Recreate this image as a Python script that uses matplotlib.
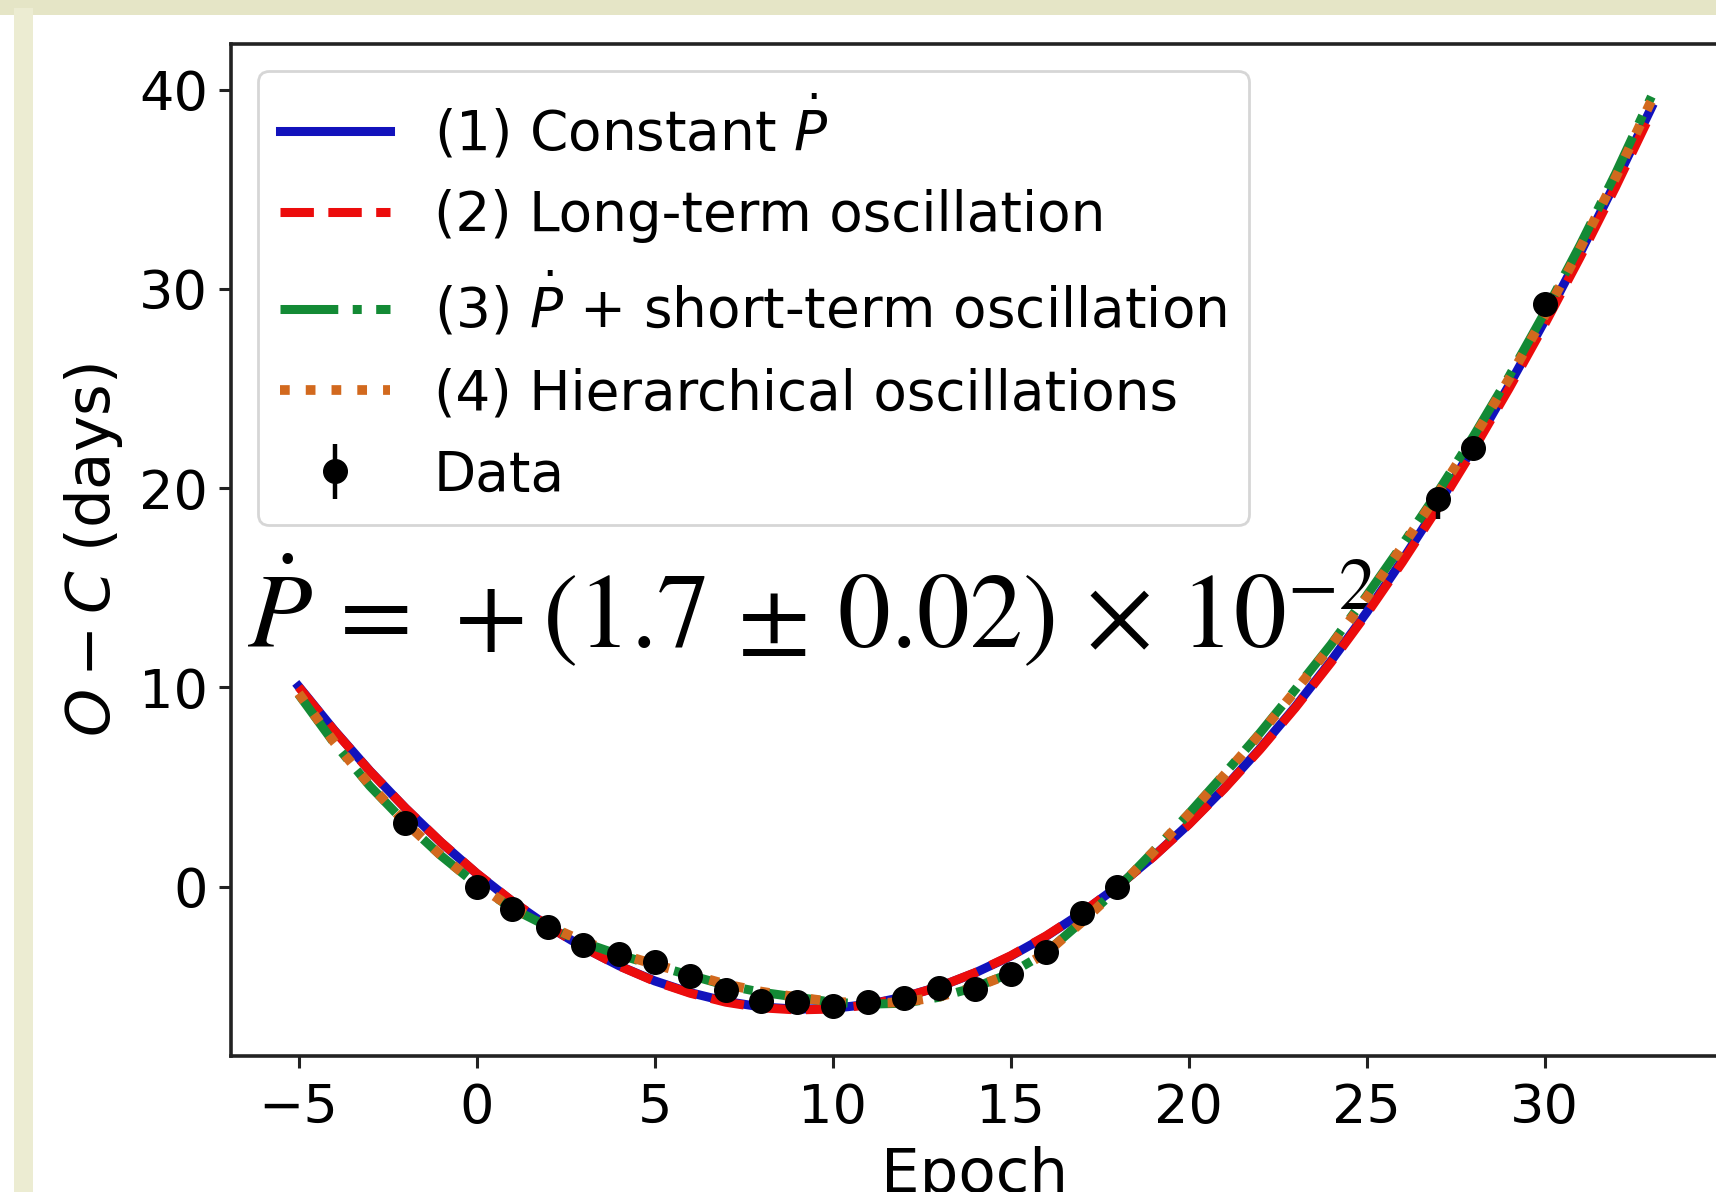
import matplotlib
matplotlib.use("Agg")
import matplotlib.pyplot as plt
from matplotlib.patches import Rectangle

# Model curves sampled at each epoch (O - C in days)
epoch_model = [-5, -4, -3, -2, -1, 0, 1, 2, 3, 4, 5, 6, 7, 8, 9, 10, 11, 12, 13,
               14, 15, 16, 17, 18, 19, 20, 21, 22, 23, 24, 25, 26, 27, 28, 29,
               30, 31, 32, 33]
oc_const_pdot = [10.05, 7.85, 5.81, 3.94, 2.22, 0.66, -0.74, -1.98, -3.05, -3.97,
                 -4.73, -5.32, -5.76, -6.04, -6.15, -6.11, -5.91, -5.54, -5.02,
                 -4.33, -3.49, -2.49, -1.32, 0.00, 1.49, 3.13, 4.94, 6.91, 9.03,
                 11.32, 13.76, 16.37, 19.13, 22.06, 25.15, 28.39, 31.80, 35.37,
                 39.09]
oc_long_osc = [10.02, 7.83, 5.80, 3.94, 2.23, 0.67, -0.73, -1.97, -3.05, -3.98,
               -4.75, -5.35, -5.80, -6.08, -6.19, -6.14, -5.93, -5.55, -5.02,
               -4.32, -3.47, -2.47, -1.31, 0.00, 1.48, 3.11, 4.91, 6.87, 8.98,
               11.25, 13.68, 16.27, 19.01, 21.92, 24.99, 28.21, 31.59, 35.13,
               38.85]
oc_pdot_short = [9.65, 7.20, 5.05, 3.20, 1.55, 0.10, -1.10, -2.00, -2.80, -3.42,
                 -3.95, -4.45, -4.95, -5.30, -5.55, -5.80, -5.90, -5.85, -5.55,
                 -5.05, -4.35, -3.30, -1.75, -0.10, 1.75, 3.65, 5.65, 7.70, 9.90,
                 12.15, 14.60, 17.15, 19.80, 22.60, 25.60, 28.80, 32.20, 35.80,
                 39.65]
oc_hierarchical = [9.70, 7.25, 5.10, 3.22, 1.57, 0.12, -1.07, -1.96, -2.75, -3.37,
                   -3.90, -4.40, -4.90, -5.27, -5.55, -5.78, -5.85, -5.80, -5.52,
                   -5.05, -4.37, -3.33, -1.78, -0.12, 1.73, 3.62, 5.60, 7.65, 9.83,
                   12.08, 14.50, 17.05, 19.70, 22.50, 25.48, 28.66, 32.04, 35.60,
                   39.45]

# Observed timings
epoch_obs = [-2, 0, 1, 2, 3, 4, 5, 6, 7, 8, 9, 10, 11, 12, 13, 14, 15, 16, 17,
             18, 27, 28, 30]
oc_obs = [3.19, 0.00, -1.14, -2.02, -2.94, -3.36, -3.78, -4.50, -5.20, -5.74,
          -5.79, -6.00, -5.79, -5.61, -5.10, -5.16, -4.40, -3.28, -1.32, 0.00,
          19.45, 22.00, 29.25]
oc_err_lo = [0.3, 0.3, 0.3, 0.3, 0.3, 0.3, 0.3, 0.3, 0.3, 0.3, 0.3, 0.3, 0.3,
             0.3, 0.3, 0.3, 0.3, 0.3, 0.3, 0.3, 1.0, 0.4, 0.4]
oc_err_hi = [0.3, 0.3, 0.3, 0.3, 0.3, 0.3, 0.3, 0.3, 0.3, 0.3, 0.3, 0.3, 0.3,
             0.3, 0.3, 0.3, 0.3, 0.3, 0.3, 0.3, 0.4, 0.4, 0.4]

labels = [r"(1) Constant $\dot{P}$",
          r"(2) Long-term oscillation",
          r"(3) $\dot{P}$ + short-term oscillation",
          r"(4) Hierarchical oscillations",
          "Data"]

W, H = 1716, 1192
fig = plt.figure(figsize=(W / 100, H / 100), dpi=100, facecolor="white")

# slide frame
fig.patches.append(Rectangle((0, 1 - 15 / H), 1, 15 / H, transform=fig.transFigure,
                             facecolor="#e5e5c6", edgecolor="none", zorder=0))
fig.patches.append(Rectangle((14 / W, 0), 19 / W, 1 - 8 / H, transform=fig.transFigure,
                             facecolor="#ececd2", edgecolor="none", zorder=0))

left, right, top, bottom = 231, 1719, 43.8, 1056
ax = fig.add_axes([left / W, (H - bottom) / H, (right - left) / W, (bottom - top) / H])
ax.set_facecolor("white")

lw = 6.5
ax.plot(epoch_model, oc_const_pdot, color="#1212bc", lw=lw, ls="-", label=labels[0])
ax.plot(epoch_model, oc_long_osc, color="#ec0c0c", lw=lw, ls="--", label=labels[1])
ax.plot(epoch_model, oc_pdot_short, color="#138a35", lw=lw, ls="-.", label=labels[2])
ax.plot(epoch_model, oc_hierarchical, color="#d2691e", lw=7.0, ls=":", label=labels[3])
ax.errorbar(epoch_obs, oc_obs, yerr=[oc_err_lo, oc_err_hi], fmt="o", color="black",
            ms=17, elinewidth=3.2, capsize=0, zorder=4, label=labels[4])

ax.set_xlim(-6.9, 34.9)
ax.set_ylim(-8.5, 42.3)
ax.set_xticks([-5, 0, 5, 10, 15, 20, 25, 30])
ax.set_yticks([0, 10, 20, 30, 40])

fs = 39
for sp in ax.spines.values():
    sp.set_linewidth(2.6)
    sp.set_color("#222222")
ax.tick_params(axis="both", labelsize=fs, length=8.5, width=2.2, color="#222222")
ax.tick_params(axis="x", pad=10)
ax.tick_params(axis="y", pad=8)

ax.set_xlabel("Epoch", fontsize=44, labelpad=9)
ax.set_ylabel(r"$O-C$ (days)", fontsize=44, labelpad=10)

ax.text(-6.45, 12.0,
        r"$\dot{P}\,=\,+(1.7\,\pm\,0.02)\,\times\,10^{-2}$",
        fontsize=76, math_fontfamily="stix", va="baseline", ha="left", zorder=1)

leg = ax.legend(loc="upper left", fontsize=39.5, handlelength=2.0, framealpha=0.8,
                borderaxespad=0.5, labelspacing=0.5)
leg.get_frame().set_linewidth(2.0)

fig.savefig("out.png", dpi=100, facecolor="white")
